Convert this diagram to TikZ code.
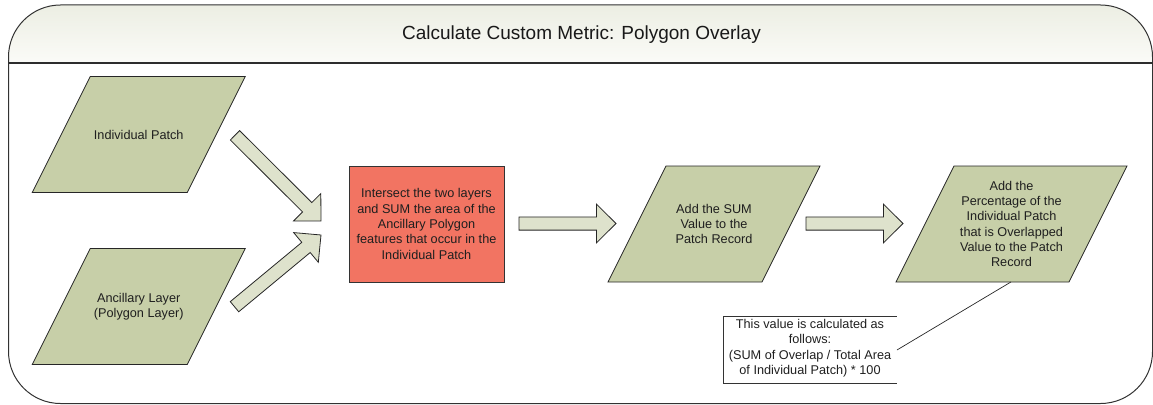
\documentclass[tikz,border=0pt]{standalone}
\usepackage{fontspec}
\setmainfont{Liberation Sans}
\usetikzlibrary{calc}
\definecolor{pgramfill}{RGB}{199,207,168}
\definecolor{arrowfill}{RGB}{222,226,204}
\definecolor{redfill}{RGB}{242,116,98}
\definecolor{headtop}{RGB}{236,238,227}
\definecolor{headbot}{RGB}{251,251,248}
\definecolor{frameline}{RGB}{50,50,50}
\tikzset{
  framestyle/.style={draw=frameline, line width=1pt},
  sepline/.style={draw=frameline!90!black, line width=1.4pt},
  pgramshape/.style={draw=black!85, fill=pgramfill, line width=0.8pt, line join=miter},
  bodytext/.style={font=\fontsize{12.7}{15.3}\selectfont, align=center, text=black!88, inner sep=0pt},
  redbox/.style={draw=black!80, fill=redfill, line width=0.9pt, minimum width=155pt, minimum height=116pt, inner sep=0pt},
  blockarr/.style={draw=black!85, fill=arrowfill, line width=0.8pt, line join=miter},
  noteline/.style={draw=black!80, line width=0.8pt},
  leader/.style={draw=black!85, line width=0.7pt},
  titletext/.style={font=\fontsize{19}{22}\selectfont, text=black!90, inner sep=0pt}
}
\newcommand\pgram[5]{%
  \coordinate (#1tl) at ({#2-#4/2+29},{#3-58});
  \coordinate (#1tr) at ({#2+#4/2+29},{#3-58});
  \coordinate (#1br) at ({#2+#4/2-29},{#3+58});
  \coordinate (#1bl) at ({#2-#4/2-29},{#3+58});
  \path[pgramshape] (#1tl) -- (#1tr) -- (#1br) -- (#1bl) -- cycle;
  \node[bodytext] (#1) at (#2,#3) {#5};
}
\newcommand\blockarrow[3]{%
  \coordinate (#1b) at ($(#3)!19.5pt!(#2)$);
  \path[blockarr] ($(#2)!6.6pt!90:(#3)$) -- ($(#1b)!6.6pt!90:(#3)$) -- ($(#1b)!19.3pt!90:(#3)$) -- (#3)
    -- ($(#1b)!19.3pt!-90:(#3)$) -- ($(#1b)!6.6pt!-90:(#3)$) -- ($(#2)!6.6pt!-90:(#3)$) -- cycle;
}
\begin{document}
\begin{tikzpicture}[x=1pt,y=-1pt]
\useasboundingbox (0,0) rectangle (1153,404);
% header shading
\begin{scope}
  \clip[rounded corners=52pt] (8.5,5) rectangle (1152.5,403.5);
  \shade[top color=headtop, bottom color=headbot] (8.5,5) rectangle (1152.5,63);
\end{scope}
\path[framestyle, rounded corners=52pt] (8.5,5) rectangle (1152.5,403.5);
\path[sepline] (8.5,63) -- (1152.5,63);
\node[titletext] (title) at (581.5,35) {Calculate Custom Metric: Polygon Overlay};

% input parallelograms
\pgram{ip}{138.75}{134.5}{155}{Individual Patch}
\pgram{al}{138.75}{306.5}{155}{Ancillary Layer\\(Polygon Layer)}

% process box
\node[redbox] (isect) at (426.5,224) {};
\node[bodytext] (isecttext) at (isect.center) {Intersect the two layers\\and SUM the area of the\\Ancillary Polygon\\features that occur in the\\Individual Patch};

% output parallelograms
\pgram{sum}{714}{224}{154}{Add the SUM\\Value to the\\Patch Record}
\pgram{pct}{1011.5}{224}{173}{Add the\\Percentage of the\\Individual Patch\\that is Overlapped\\Value to the Patch\\Record}

% block arrows
\coordinate (a1t) at (235,135.3);
\coordinate (a1h) at (321,221);
\coordinate (a2t) at (234.5,306.7);
\coordinate (a2h) at (321,235);
\coordinate (a3t) at (519,223.5);
\coordinate (a3h) at (616,223.5);
\coordinate (a4t) at (806,223.5);
\coordinate (a4h) at (903,223.5);
\blockarrow{ar1}{a1t}{a1h}
\blockarrow{ar2}{a2t}{a2h}
\blockarrow{ar3}{a3t}{a3h}
\blockarrow{ar4}{a4t}{a4h}

% annotation
\node[minimum width=173.5pt, minimum height=66.6pt, inner sep=0pt] (note) at (810,350) {};
\node[bodytext, anchor=north] (notetext) at ($(note.north)+(0,2.5)$) {This value is calculated as\\follows:\\(SUM of Overlap / Total Area\\of Individual Patch) * 100};
\path[noteline] (note.north east) -- (note.north west) -- (note.south west) -- (note.south east);
\coordinate (pctpt) at ($(pctbl)!0.664!(pctbr)$);
\path[leader] (note.east) -- (pctpt);
\end{tikzpicture}
\end{document}
